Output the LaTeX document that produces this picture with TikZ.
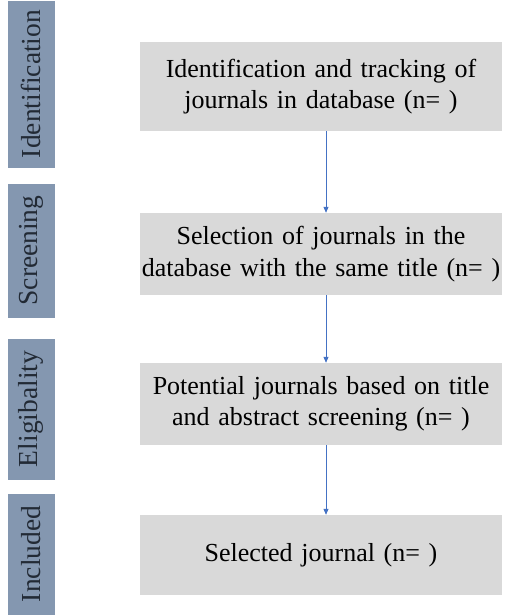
\documentclass[tikz,border=0pt]{standalone}
\usepackage{fontspec}
\setmainfont{Liberation Serif}
\usetikzlibrary{arrows.meta,positioning}

\definecolor{phasefill}{HTML}{8497B0}
\definecolor{phasetext}{HTML}{222A35}
\definecolor{boxfill}{HTML}{D9D9D9}
\definecolor{flowblue}{HTML}{4472C4}

\begin{document}
\begin{tikzpicture}[x=1pt,y=-1pt,node distance=150pt,on grid,
		phase/.style={fill=phasefill, draw=white, line width=0.6pt, rotate=90, minimum height=48pt, inner sep=0pt, text=phasetext, font=\fontsize{27.5}{30}\selectfont},
		box/.style={fill=boxfill, minimum width=362pt, minimum height=82pt, text width=362pt, align=center, inner sep=0pt, font=\fontsize{26}{31.5}\selectfont},
		flow/.style={-{Triangle[length=6pt,width=5pt]}, draw=flowblue, line width=0.8pt}]
		\useasboundingbox (0,0) rectangle (505,615);
		% phases on the left
		\node[phase, minimum width=168pt] (identification) at (31,84) {Identification};
		\node[phase, minimum width=135pt] (screening) at (31,250.5) {Screening};
		\node[phase, minimum width=142pt] (eligibility) at (31,409) {Eligibality};
		\node[phase, minimum width=122pt] (included) at (31,554) {Included};
		
		% flow boxes
		\node[box, minimum height=89pt] (b1) at (321,86.5) {Identification and tracking of\\journals in database (n= )};
		\node[box, below=167.5pt of b1] (b2) {Selection of journals in the\\database with the same title (n= )};
		\node[box, below=of b2] (b3) {Potential journals based on title\\and abstract screening (n= )};
		\node[box, below=151pt of b3, minimum height=80pt] (b4) {Selected journal (n= )};
		
		\draw[flow] ([xshift=5pt]b1.south) -- ([xshift=5pt]b2.north);
		\draw[flow] ([xshift=5pt]b2.south) -- ([xshift=5pt]b3.north);
		\draw[flow] ([xshift=5pt]b3.south) -- ([xshift=5pt]b4.north);
	\end{tikzpicture}
\end{document}
